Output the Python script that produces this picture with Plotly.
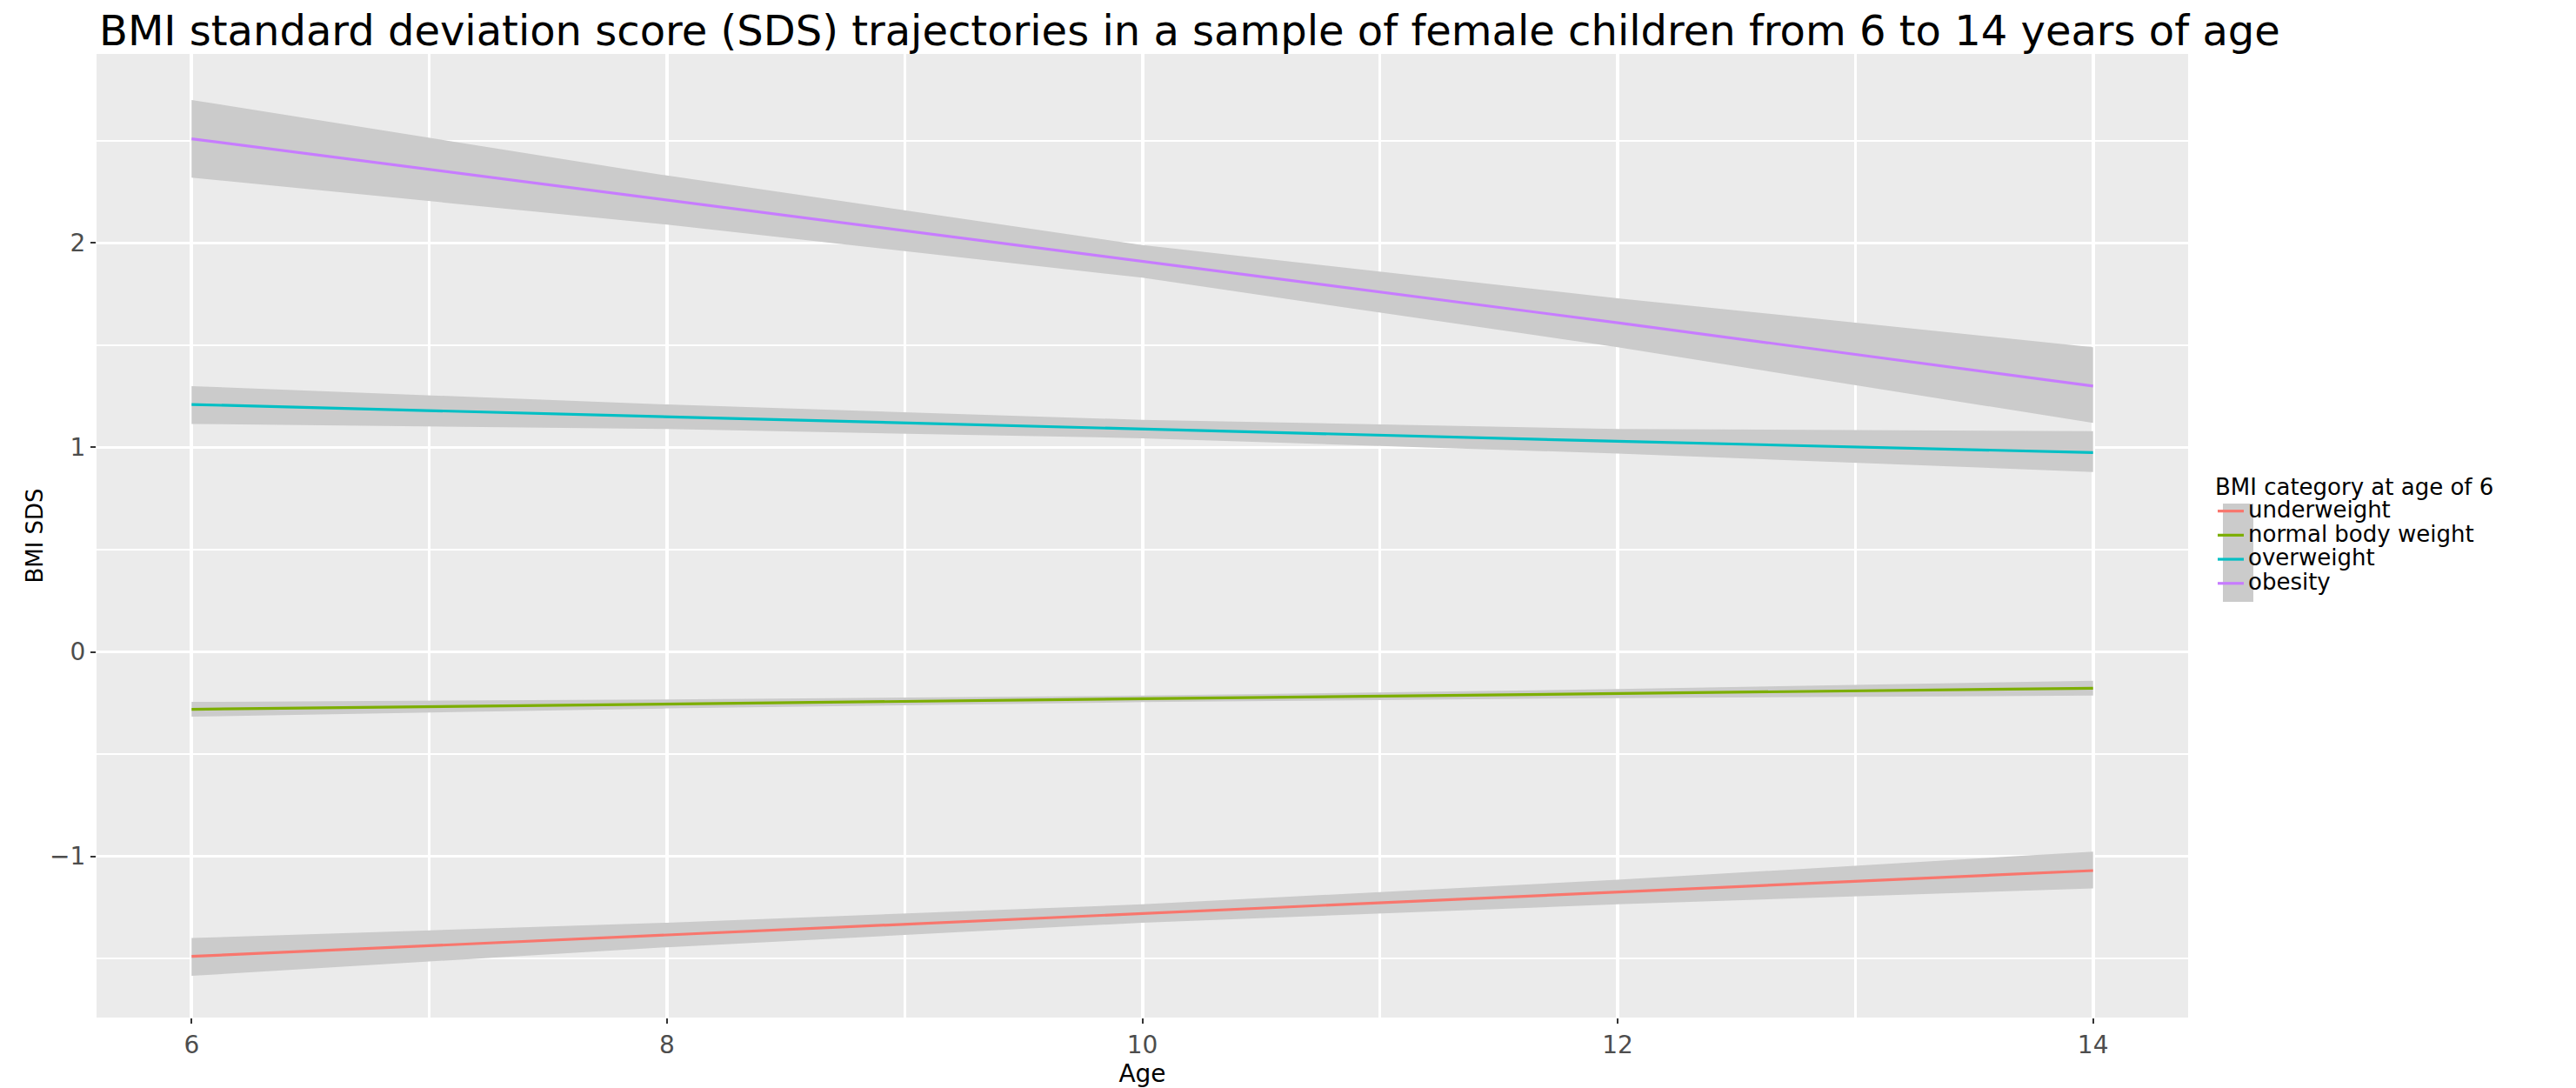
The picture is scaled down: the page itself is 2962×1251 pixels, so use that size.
import plotly.graph_objects as go

# ---- data ----
ages = [6, 8, 10, 12, 14]
categories = ["underweight", "normal body weight", "overweight", "obesity"]
colors = ["#F8766D", "#7CAE00", "#00BFC4", "#C77CFF"]

underweight_fit = [-1.49, -1.385, -1.28, -1.175, -1.07]
underweight_lower = [-1.585, -1.445, -1.325, -1.235, -1.157]
underweight_upper = [-1.40, -1.325, -1.235, -1.115, -0.977]

normal_fit = [-0.281, -0.255, -0.23, -0.204, -0.178]
normal_lower = [-0.317, -0.277, -0.246, -0.226, -0.214]
normal_upper = [-0.245, -0.233, -0.214, -0.182, -0.141]

overweight_fit = [1.21, 1.15, 1.09, 1.03, 0.975]
overweight_lower = [1.115, 1.09, 1.045, 0.97, 0.88]
overweight_upper = [1.30, 1.21, 1.135, 1.09, 1.08]

obesity_fit = [2.51, 2.21, 1.91, 1.61, 1.30]
obesity_lower = [2.32, 2.09, 1.83, 1.49, 1.12]
obesity_upper = [2.70, 2.33, 1.99, 1.73, 1.49]

fits = [underweight_fit, normal_fit, overweight_fit, obesity_fit]
lowers = [underweight_lower, normal_lower, overweight_lower, obesity_lower]
uppers = [underweight_upper, normal_upper, overweight_upper, obesity_upper]

x_ticks = [6, 8, 10, 12, 14]
y_ticks = [-1, 0, 1, 2]
y_tick_labels = ["\u22121", "0", "1", "2"]

title_text = "BMI standard deviation score (SDS) trajectories in a sample of female children from 6 to 14 years of age"
legend_title = "BMI category at age of 6"
x_title = "Age"
y_title = "BMI SDS"

FONT = "DejaVu Sans"
RIBBON = "rgb(203,203,203)"

fig = go.Figure()
for name, col, fit, lo, up in zip(categories, colors, fits, lowers, uppers):
    fig.add_trace(go.Scatter(
        x=ages + ages[::-1], y=up + lo[::-1],
        fill="toself", fillcolor=RIBBON, mode="none",
        showlegend=False, hoverinfo="skip"))
    fig.add_trace(go.Scatter(
        x=ages, y=fit, mode="lines",
        name="<span style='font-size:26px'>" + name + "</span>",
        line=dict(color=col, width=3.2)))

W, H = 2962, 1251
L, R, T, B = 103, 454, 54, 89
PW, PH = W - L - R, H - T - B


def px_x(px):
    return (px - L) / PW


def px_y(py):
    return (H - B - py) / PH


LEG_X, LEG_Y = 2537, 527

fig.update_layout(
    width=W, height=H,
    margin=dict(l=L, r=R, t=T, b=B, pad=0),
    paper_bgcolor="white", plot_bgcolor="#EBEBEB",
    font=dict(family=FONT, color="#000000"),
    title=dict(text=title_text, x=106 / W, xanchor="left", xref="container",
               y=1 - 27 / H, yanchor="middle", yref="container",
               font=dict(family=FONT, size=48, color="black")),
    showlegend=True,
    legend=dict(title=dict(text=legend_title, font=dict(size=26, family=FONT, color="black")),
                font=dict(size=19, family=FONT, color="black"),
                xref="container", yref="container",
                x=LEG_X / W, y=1 - LEG_Y / H, xanchor="left", yanchor="top",
                bgcolor="rgba(0,0,0,0)", borderwidth=0, tracegroupgap=0),
    shapes=[dict(type="rect", xref="paper", yref="paper", layer="below",
                 x0=px_x(2548), x1=px_x(2583), y0=px_y(684), y1=px_y(571),
                 fillcolor=RIBBON, line=dict(width=0))],
)

fig.update_xaxes(
    range=[5.6, 14.4], tickvals=x_ticks, ticktext=[str(v) for v in x_ticks],
    showgrid=True, gridcolor="white", gridwidth=4,
    minor=dict(dtick=1, tick0=5, showgrid=True, gridcolor="white", gridwidth=2.5, ticklen=0),
    zeroline=False, showline=False,
    ticks="outside", ticklen=6, tickwidth=2, tickcolor="#333333",
    tickfont=dict(family=FONT, size=28, color="#4D4D4D"),
    title=dict(text="<span style='font-size:28px'>" + x_title + "</span>",
               font=dict(family=FONT, size=16, color="black"), standoff=0),
    automargin=True,
)
fig.update_yaxes(
    range=[-1.789, 2.925], tickvals=y_ticks, ticktext=y_tick_labels,
    showgrid=True, gridcolor="white", gridwidth=3,
    minor=dict(dtick=0.5, tick0=0, showgrid=True, gridcolor="white", gridwidth=2, ticklen=0),
    zeroline=False, showline=False,
    ticks="outside", ticklen=6, tickwidth=2, tickcolor="#333333",
    tickfont=dict(family=FONT, size=28, color="#4D4D4D"),
    title=dict(text=y_title, font=dict(family=FONT, size=26, color="black"), standoff=0),
    automargin=True,
)

fig.write_html("out.html")
